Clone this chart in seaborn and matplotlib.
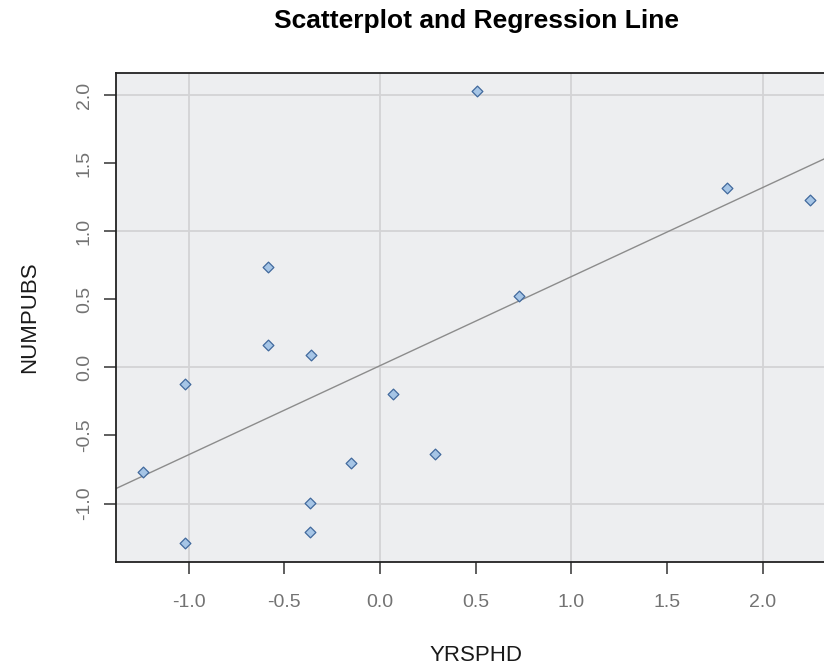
import numpy as np
import pandas as pd
import matplotlib
matplotlib.use("Agg")
import matplotlib.pyplot as plt
import seaborn as sns

# standardized values
yrsphd = [0.505, 1.813, 2.25, 0.726, -0.583, -0.583, -0.363, -1.021,
          0.067, -0.152, 0.287, -1.241, -0.364, -0.364, -1.020]
numpubs = [2.03, 1.32, 1.233, 0.522, 0.74, 0.162, 0.091, -0.125,
           -0.196, -0.70, -0.637, -0.77, -0.997, -1.21, -1.29]
tick_vals = [-1.0, -0.5, 0.0, 0.5, 1.0, 1.5, 2.0]
tick_text = ["-1.0", "-0.5", "0.0", "0.5", "1.0", "1.5", "2.0"]

df = pd.DataFrame({"YRSPHD": yrsphd, "NUMPUBS": numpubs})

sns.set_theme(style="white")
plt.rcParams["font.family"] = ["Liberation Sans", "DejaVu Sans"]

fig = plt.figure(figsize=(8.24, 6.68), dpi=100)
ax = fig.add_axes([0.1408, 0.1591, 0.8738, 0.7316])
ax.set_facecolor("#edeef0")
ax.set_xlim(-1.380, 2.384)
ax.set_ylim(-1.428, 2.165)

ax.set_xticks(tick_vals)
ax.set_yticks(tick_vals)
for v in [-1, 0, 1, 2]:
    ax.axvline(v, color="#d3d3d5", lw=1.3, zorder=0)
    ax.axhline(v, color="#d3d3d5", lw=1.3, zorder=0)

sns.regplot(data=df, x="YRSPHD", y="NUMPUBS", ax=ax, ci=None, truncate=False,
            marker="D",
            scatter_kws=dict(s=30, color="#a6c5e6", edgecolors="#41699c",
                             linewidths=0.9, alpha=1, zorder=3),
            line_kws=dict(color="#8c8c8c", lw=1.0, zorder=2))

ax.set_xticklabels(tick_text)
ax.set_yticklabels(tick_text, rotation=90, va="center")
ax.tick_params(axis="both", direction="out", length=8.6, width=1.1,
               color="#333333", labelcolor="#737373", labelsize=14,
               bottom=True, left=True)
ax.tick_params(axis="x", pad=15)
ax.tick_params(axis="y", pad=8)

for side in ["left", "bottom", "top"]:
    ax.spines[side].set_visible(True)
    ax.spines[side].set_color("#222222")
    ax.spines[side].set_linewidth(1.3)
ax.spines["right"].set_visible(False)

ax.set_xlabel("YRSPHD", fontsize=16, color="#1a1a1a", labelpad=24)
ax.set_ylabel("NUMPUBS", fontsize=16, color="#1a1a1a", labelpad=26)
fig.text(476 / 824, 1 - 21 / 668, "Scatterplot and Regression Line",
         ha="center", va="center", fontsize=19, fontweight="bold",
         color="black")

fig.savefig("out.png", dpi=100)
